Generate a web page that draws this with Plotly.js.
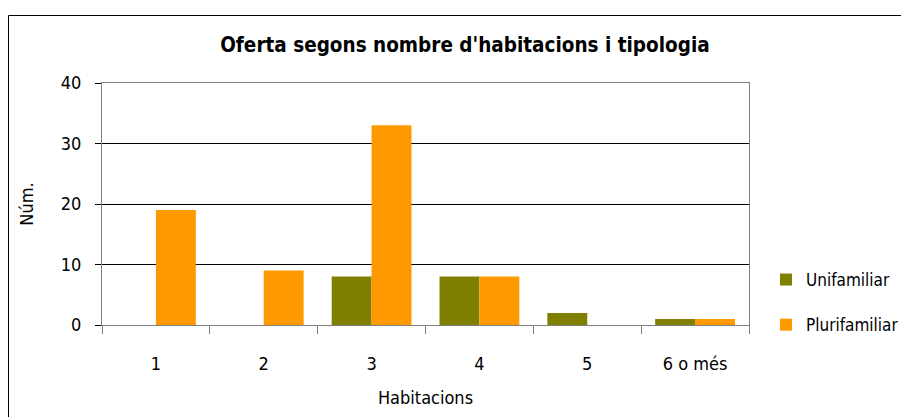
<!DOCTYPE html>
<html><head><meta charset="utf-8">
<script src="https://cdn.plot.ly/plotly-3.0.1.min.js"></script>
<style>body{margin:0;background:#fff}#c{width:901px;height:417px}</style>
</head><body><div id="c"></div>
<script>
const categories = ["1", "2", "3", "4", "5", "6 o més"];
const unifamiliar = [0, 0, 8, 8, 2, 1];
const plurifamiliar = [19, 9, 33, 8, 0, 1];
const yTicks = [0, 10, 20, 30, 40];

const F = "Liberation Sans Narrow, DejaVu Sans Condensed, DejaVu Sans, sans-serif";
const fnt = (size, extra) => Object.assign({family:F, size:size, color:'#000', stretch:'condensed'}, extra || {});
const traces = [
  {type:'bar', name:'Unifamiliar', legendgroup:'u', x:categories, y:unifamiliar, marker:{color:'#808000'}},
  {type:'bar', name:'Plurifamiliar', legendgroup:'p', x:categories, y:plurifamiliar, marker:{color:'#FF9900'}}
];
const L = 102, R = 749, T = 83, B = 325;
const layout = {
  width:901, height:417,
  margin:{l:L, r:901-R, t:T, b:417-B, pad:0, autoexpand:false},
  paper_bgcolor:'#fff', plot_bgcolor:'#fff',
  font:fnt(18),
  title:{text:"Oferta segons nombre d'habitacions i tipologia", x:0.516, xanchor:'center', y:0.892, yanchor:'middle',
         font:fnt(20.5, {weight:'bold'})},
  barmode:'group', bargap:0.26, bargroupgap:0,
  xaxis:{type:'category', tickson:'boundaries', ticks:'outside', ticklen:8, tickcolor:'#808080',
         showline:true, linecolor:'#808080', mirror:true, showgrid:false, automargin:false,
         ticklabelstandoff:22,
         tickfont:fnt(18), title:{text:'Habitacions', font:fnt(18), standoff:18}},
  yaxis:{range:[0,40], tickvals:yTicks, ticks:'outside', ticklen:6, tickcolor:'#000', automargin:false,
         showline:true, linecolor:'#808080', mirror:true, showgrid:true, gridcolor:'#000', gridwidth:1,
         zeroline:true, zerolinecolor:'#000', zerolinewidth:1, ticklabelstandoff:10,
         tickfont:fnt(18), title:{text:'Núm.', font:fnt(18), standoff:22}},
  legend:{x:(766-L)/(R-L), xanchor:'left', y:(B-262)/(B-T), yanchor:'top', font:fnt(17),
          traceorder:'grouped', bgcolor:'rgba(0,0,0,0)', tracegroupgap:20, itemsizing:'constant'},
  shapes:[
    {type:'line', xref:'paper', yref:'paper', x0:(8.5-L)/(R-L), x1:(901-L)/(R-L), y0:(B-15.5)/(B-T), y1:(B-15.5)/(B-T), line:{color:'#000', width:1}},
    {type:'line', xref:'paper', yref:'paper', x0:(8.5-L)/(R-L), x1:(8.5-L)/(R-L), y0:(B-15.5)/(B-T), y1:(B-417)/(B-T), line:{color:'#000', width:1}}
  ]
};
Plotly.newPlot('c', traces, layout, {staticPlot:true});
</script></body></html>
